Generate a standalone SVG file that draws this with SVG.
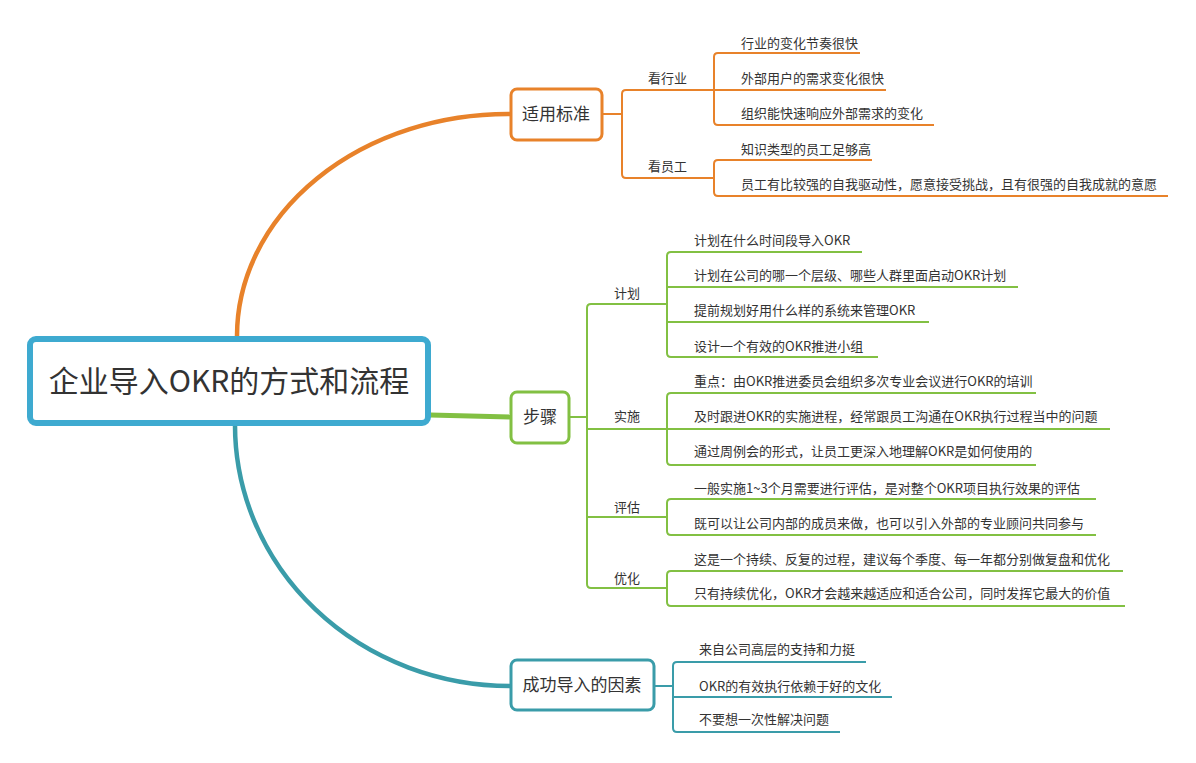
<svg xmlns="http://www.w3.org/2000/svg" width="1196" height="763" viewBox="0 0 1196 763">
<style>
text{font-family:"Noto Sans CJK SC","Noto Sans",sans-serif;fill:#333}
.t{font-size:13px}
.b{font-size:17px;text-anchor:middle}
.c{font-size:30px;text-anchor:middle}
.o{fill:none;stroke:#e8822a;stroke-width:2;stroke-linejoin:round}
.g{fill:none;stroke:#82c043;stroke-width:2;stroke-linejoin:round}
.q{fill:none;stroke:#3a9ca9;stroke-width:2;stroke-linejoin:round}
</style>
<rect width="1196" height="763" fill="#fff"/>
<g id="connectors">
<path d="M237,336 A271,222 0 0 1 510,114" fill="none" stroke="#e8822a" stroke-width="4.5"/>
<path d="M235,424 A275,261 0 0 0 510,686" fill="none" stroke="#3a9ca9" stroke-width="4.5"/>
<path d="M430,415 L510,417" fill="none" stroke="#82c043" stroke-width="5"/>
<path class="o" d="M602,114 H622"/>
<path class="o" d="M712,90 H626 Q622,90 622,94 V174 Q622,178 626,178 H714"/>
<path class="o" d="M860,53 H718 Q714,53 714,57 V121 Q714,125 718,125 H934"/>
<path class="o" d="M712,90 H886"/>
<path class="o" d="M872,160 H718 Q714,160 714,164 V192 Q714,196 718,196 H1168"/>
<path class="g" d="M569,417 H587"/>
<path class="g" d="M667,304 H591 Q587,304 587,308 V584 Q587,588 591,588 H667"/>
<path class="g" d="M587,429 H667"/>
<path class="g" d="M587,517 H667"/>
<path class="g" d="M862,252 H671 Q667,252 667,256 V353 Q667,357 671,357 H878"/>
<path class="g" d="M667,287 H1018"/>
<path class="g" d="M667,322 H929"/>
<path class="g" d="M1036,393 H671 Q667,393 667,397 V461 Q667,465 671,465 H1036"/>
<path class="g" d="M667,429 H1110"/>
<path class="g" d="M1096,499 H671 Q667,499 667,503 V531 Q667,535 671,535 H1096"/>
<path class="g" d="M1123,571 H671 Q667,571 667,575 V602 Q667,606 671,606 H1125"/>
<path class="q" d="M654,686 H673"/>
<path class="q" d="M866,662 H677 Q673,662 673,666 V728 Q673,732 677,732 H840"/>
<path class="q" d="M673,697 H892"/>
</g>
<g id="central">
<rect x="30" y="339" width="398" height="84" rx="6" fill="#fff" stroke="#3eaad0" stroke-width="6"/>
<text class="c" x="229" y="392">企业导入OKR的方式和流程</text>
</g>
<g id="branch-criteria">
<rect x="511" y="89" width="91" height="51" rx="6" fill="#fff" stroke="#e8822a" stroke-width="3"/>
<text class="b" x="556" y="120">适用标准</text>
</g>
<g id="criteria-industry">
<text class="t" x="648" y="83">看行业</text>
<text class="t" x="741" y="48">行业的变化节奏很快</text>
<text class="t" x="741" y="83">外部用户的需求变化很快</text>
<text class="t" x="741" y="118">组织能快速响应外部需求的变化</text>
</g>
<g id="criteria-staff">
<text class="t" x="648" y="171">看员工</text>
<text class="t" x="741" y="154">知识类型的员工足够高</text>
<text class="t" x="741" y="189">员工有比较强的自我驱动性，愿意接受挑战，且有很强的自我成就的意愿</text>
</g>
<g id="branch-steps">
<rect x="511" y="392" width="58" height="51" rx="6" fill="#fff" stroke="#82c043" stroke-width="3"/>
<text class="b" x="540" y="423">步骤</text>
</g>
<g id="steps-plan">
<text class="t" x="614" y="298">计划</text>
<text class="t" x="694" y="245">计划在什么时间段导入OKR</text>
<text class="t" x="694" y="280">计划在公司的哪一个层级、哪些人群里面启动OKR计划</text>
<text class="t" x="694" y="315">提前规划好用什么样的系统来管理OKR</text>
<text class="t" x="694" y="351">设计一个有效的OKR推进小组</text>
</g>
<g id="steps-implement">
<text class="t" x="614" y="421">实施</text>
<text class="t" x="694" y="386">重点：由OKR推进委员会组织多次专业会议进行OKR的培训</text>
<text class="t" x="694" y="421">及时跟进OKR的实施进程，经常跟员工沟通在OKR执行过程当中的问题</text>
<text class="t" x="694" y="456">通过周例会的形式，让员工更深入地理解OKR是如何使用的</text>
</g>
<g id="steps-evaluate">
<text class="t" x="614" y="512">评估</text>
<text class="t" x="694" y="493">一般实施1~3个月需要进行评估，是对整个OKR项目执行效果的评估</text>
<text class="t" x="694" y="528">既可以让公司内部的成员来做，也可以引入外部的专业顾问共同参与</text>
</g>
<g id="steps-optimize">
<text class="t" x="614" y="583">优化</text>
<text class="t" x="694" y="564">这是一个持续、反复的过程，建议每个季度、每一年都分别做复盘和优化</text>
<text class="t" x="694" y="598">只有持续优化，OKR才会越来越适应和适合公司，同时发挥它最大的价值</text>
</g>
<g id="branch-factors">
<rect x="511" y="660" width="143" height="50" rx="6" fill="#fff" stroke="#3a9ca9" stroke-width="3"/>
<text class="b" x="582" y="691">成功导入的因素</text>
<text class="t" x="699" y="654">来自公司高层的支持和力挺</text>
<text class="t" x="699" y="691">OKR的有效执行依赖于好的文化</text>
<text class="t" x="699" y="724">不要想一次性解决问题</text>
</g>
</svg>
